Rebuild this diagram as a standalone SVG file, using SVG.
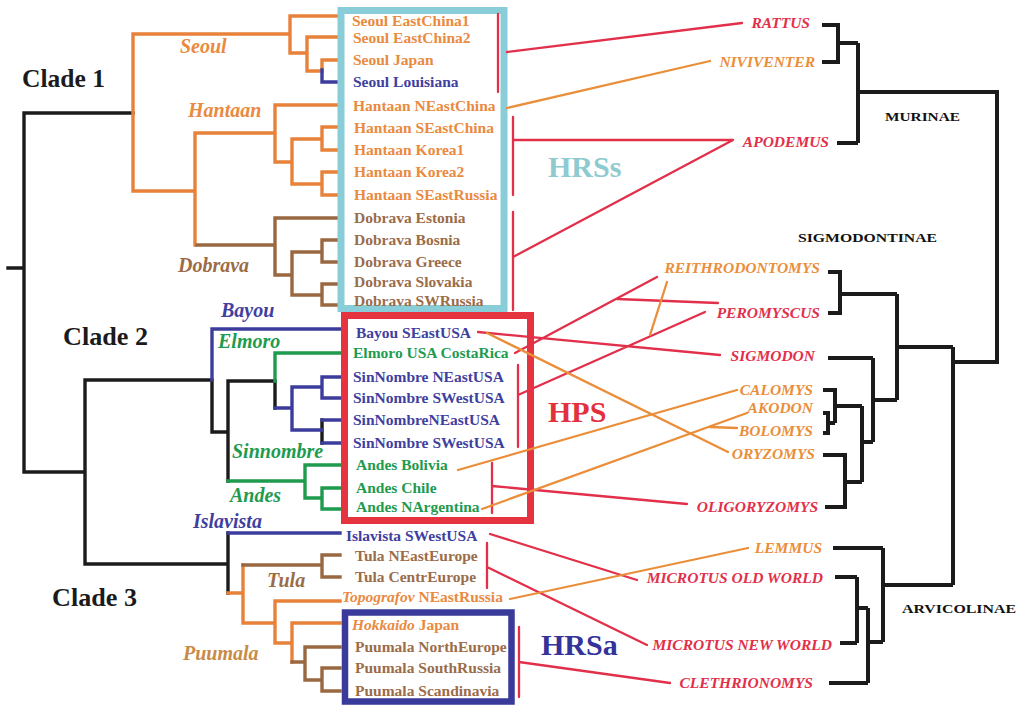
<svg xmlns="http://www.w3.org/2000/svg" width="1020" height="705" viewBox="0 0 1020 705">
<style>
.tr{fill:none;stroke-width:3.4;stroke-linecap:square;stroke-linejoin:miter}
.k{stroke:#1b1b1b}.o{stroke:#E8823A}.br{stroke:#9A6840}.bl{stroke:#3C3C9C}.gr{stroke:#1E9B4E}
.rt{fill:none;stroke:#1b1b1b;stroke-width:4;stroke-linejoin:miter}
.c{fill:none;stroke-width:2.3;stroke-linecap:round}
.cr{stroke:#E2304A}.co{stroke:#EA8E3A}
text{font-family:"Liberation Serif","Times New Roman",serif;font-weight:bold}
.lf{font-size:15.5px}
.cl{font-size:20px;font-style:italic}
.sp{font-size:15.5px;font-style:italic}
.fam{font-size:13px;fill:#111}
.big{font-size:30px}
.clade{font-size:25px;fill:#1b1b1b}
.fo{fill:#E98A40}.fb{fill:#3F3F9F}.fbr{fill:#9B6C48}.fg{fill:#1F9B4F}.fr{fill:#E2304A}.fso{fill:#EA8E3A}
</style>
<g id="left-tree">
<path class="tr k" d="M8 268H24M24 113V472M24 113H133M24 472H85M85 380V564M85 380H212M212 380V432H228M228 381V481M228 381H275M275 381V408M322 420V443M85 564H228M228 533V593"/>
<path class="tr o" d="M133 34V191M133 34H290M290 16V53M290 16H340M290 53H307M307 37V71M307 37H340M307 71H322M322 60V70M322 60H340M133 191H195M195 133V245M195 133H275M275 105V162M275 105H340M275 162H292M292 139V184M292 139H322M322 127V150M322 127H340M322 150H340M292 184H322M322 172V195M322 172H340M322 195H340M228 593H243M243 565V623M243 623H275M275 601V643M275 601H340M275 643H292M292 623V662M292 623H340"/>
<path class="tr bl" d="M322 70V82H340M212 380V329H340M275 408H292M292 387V430M292 387H322M322 377V398M322 377H340M322 398H340M292 430H322M322 420H340M322 443H340M228 533H340"/>
<path class="tr gr" d="M275 381V353H340M228 481H305M305 465V498M305 465H340M305 498H322M322 488V509M322 488H340M322 509H340"/>
<path class="tr br" d="M197 245H275M275 218V275M275 218H340M275 275H292M292 252V295M292 252H322M322 240V262M322 240H340M322 262H340M292 295H322M322 284V305M322 284H340M322 305H340M243 565H322M322 555V577M322 555H340M322 577H340M292 662H305M305 647V680M305 647H340M305 680H322M322 668V691M322 668H340M322 691H340"/>
</g>
<g id="right-tree">
<path class="rt" d="M822 25H838V62H822M838 43H858M858 43V143M837 143H858M858 92H997V362H953M953 347V585M953 347H897M897 294V400M897 294H840M828 272H840V313H828M897 400H873M873 358V442M828 358H873M873 442H862M862 406V482M862 406H835M823 390H835V423M823 413H828V433H823M828 423H835M862 482H845M823 455H845V507H825M953 585H883M883 548V642M833 548H883M883 642H868M868 608V683M868 608H857M857 577V643M835 577H857M840 643H857M829 683H868"/>
</g>
<g id="boxes">
<rect id="box-hrss" x="341" y="10.5" width="163" height="298" fill="none" stroke="#88CDD8" stroke-width="7"/>
<rect id="box-hps" x="344.5" y="315.5" width="186" height="205" fill="none" stroke="#E5333F" stroke-width="7"/>
<rect id="box-hrsa" x="345" y="612.5" width="166.5" height="89" fill="none" stroke="#3A3A9A" stroke-width="6.5"/>
</g>
<g id="clades">
<g id="clade1"><text class="clade" x="22" y="87" textLength="83" lengthAdjust="spacingAndGlyphs">Clade 1</text></g>
<g id="clade2"><text class="clade" x="63" y="345" textLength="85" lengthAdjust="spacingAndGlyphs">Clade 2</text></g>
<g id="clade3"><text class="clade" x="52" y="606" textLength="85" lengthAdjust="spacingAndGlyphs">Clade 3</text></g>
</g>
<g id="group-labels">
<g id="g-seoul"><text class="cl fo" x="180" y="53">Seoul</text></g>
<g id="g-hantaan"><text class="cl fo" x="188" y="117">Hantaan</text></g>
<g id="g-dobrava"><text class="cl fbr" x="178" y="272">Dobrava</text></g>
<g id="g-bayou"><text class="cl fb" x="221" y="317">Bayou</text></g>
<g id="g-elmoro"><text class="cl fg" x="218" y="348">Elmoro</text></g>
<g id="g-sinnombre"><text class="cl fg" x="232" y="458">Sinnombre</text></g>
<g id="g-andes"><text class="cl fg" x="230" y="502">Andes</text></g>
<g id="g-islavista"><text class="cl fb" x="193" y="528">Islavista</text></g>
<g id="g-tula"><text class="cl fbr" x="267" y="587">Tula</text></g>
<g id="g-puumala"><text class="cl" fill="#C98A45" x="183" y="660">Puumala</text></g>
</g>
<g id="leaves">
<g id="l1"><text class="lf fo" x="352" y="26">Seoul EastChina1</text></g>
<g id="l2"><text class="lf fo" x="353" y="43">Seoul EastChina2</text></g>
<g id="l3"><text class="lf fo" x="353" y="65">Seoul Japan</text></g>
<g id="l4"><text class="lf fb" x="353" y="87">Seoul Louisiana</text></g>
<g id="l5"><text class="lf fo" x="353" y="111">Hantaan NEastChina</text></g>
<g id="l6"><text class="lf fo" x="354" y="133">Hantaan SEastChina</text></g>
<g id="l7"><text class="lf fo" x="354" y="155">Hantaan Korea1</text></g>
<g id="l8"><text class="lf fo" x="354" y="177">Hantaan Korea2</text></g>
<g id="l9"><text class="lf fo" x="354" y="200">Hantaan SEastRussia</text></g>
<g id="l10"><text class="lf fbr" x="354" y="223">Dobrava Estonia</text></g>
<g id="l11"><text class="lf fbr" x="354" y="245">Dobrava Bosnia</text></g>
<g id="l12"><text class="lf fbr" x="354" y="267">Dobrava Greece</text></g>
<g id="l13"><text class="lf fbr" x="354" y="287">Dobrava Slovakia</text></g>
<g id="l14"><text class="lf fbr" x="354" y="306">Dobrava SWRussia</text></g>
<g id="l15"><text class="lf fb" x="356" y="338">Bayou SEastUSA</text></g>
<g id="l16"><text class="lf fg" x="353" y="358">Elmoro USA CostaRica</text></g>
<g id="l17"><text class="lf fb" x="353" y="382">SinNombre NEastUSA</text></g>
<g id="l18"><text class="lf fb" x="353" y="403">SinNombre SWestUSA</text></g>
<g id="l19"><text class="lf fb" x="353" y="425">SinNombreNEastUSA</text></g>
<g id="l20"><text class="lf fb" x="353" y="448">SinNombre SWestUSA</text></g>
<g id="l21"><text class="lf fg" x="356" y="470">Andes Bolivia</text></g>
<g id="l22"><text class="lf fg" x="356" y="493">Andes Chile</text></g>
<g id="l23"><text class="lf fg" x="356" y="512">Andes NArgentina</text></g>
<g id="l24"><text class="lf fb" x="346" y="541">Islavista SWestUSA</text></g>
<g id="l25"><text class="lf fbr" x="355" y="561">Tula NEastEurope</text></g>
<g id="l26"><text class="lf fbr" x="355" y="582">Tula CentrEurope</text></g>
<g id="l27"><text class="lf fo" x="342" y="602"><tspan font-style="italic">Topografov</tspan> NEastRussia</text></g>
<g id="l28"><text class="lf fo" x="352" y="630"><tspan font-style="italic">Hokkaido</tspan> Japan</text></g>
<g id="l29"><text class="lf fbr" x="355" y="652">Puumala NorthEurope</text></g>
<g id="l30"><text class="lf fbr" x="355" y="673">Puumala SouthRussia</text></g>
<g id="l31"><text class="lf fbr" x="355" y="696">Puumala Scandinavia</text></g>
</g>
<g id="box-labels">
<g id="lbl-hrss"><text class="big" fill="#8ECBD1" x="548" y="177">HRSs</text></g>
<g id="lbl-hps"><text class="big" fill="#E2303C" x="548" y="422">HPS</text></g>
<g id="lbl-hrsa"><text class="big" fill="#333399" x="541" y="655">HRSa</text></g>
</g>
<g id="hosts">
<g id="h-rattus"><text class="sp fr" text-anchor="end" x="810" y="28">RATTUS</text></g>
<g id="h-niviventer"><text class="sp fso" text-anchor="end" x="815" y="67">NIVIVENTER</text></g>
<g id="h-apodemus"><text class="sp fr" text-anchor="end" x="829" y="147">APODEMUS</text></g>
<g id="h-reith"><text class="sp fso" text-anchor="end" x="820" y="273">REITHRODONTOMYS</text></g>
<g id="h-peromyscus"><text class="sp fr" text-anchor="end" x="820" y="318">PEROMYSCUS</text></g>
<g id="h-sigmodon"><text class="sp fr" text-anchor="end" x="815" y="361">SIGMODON</text></g>
<g id="h-calomys"><text class="sp fso" text-anchor="end" x="813" y="395">CALOMYS</text></g>
<g id="h-akodon"><text class="sp fso" text-anchor="end" x="813" y="413">AKODON</text></g>
<g id="h-bolomys"><text class="sp fso" text-anchor="end" x="813" y="436">BOLOMYS</text></g>
<g id="h-oryzomys"><text class="sp fso" text-anchor="end" x="815" y="459">ORYZOMYS</text></g>
<g id="h-oligoryzomys"><text class="sp fr" text-anchor="end" x="818" y="512">OLIGORYZOMYS</text></g>
<g id="h-lemmus"><text class="sp fso" text-anchor="end" x="822" y="553">LEMMUS</text></g>
<g id="h-mow"><text class="sp fr" text-anchor="end" x="823" y="583">MICROTUS OLD WORLD</text></g>
<g id="h-mnw"><text class="sp fr" text-anchor="end" x="832" y="650">MICROTUS NEW WORLD</text></g>
<g id="h-clethrionomys"><text class="sp fr" text-anchor="end" x="813" y="688">CLETHRIONOMYS</text></g>
</g>
<g id="families">
<g id="f-murinae"><text class="fam" x="885" y="121" textLength="75" lengthAdjust="spacingAndGlyphs">MURINAE</text></g>
<g id="f-sigmodontinae"><text class="fam" x="798" y="242" textLength="139" lengthAdjust="spacingAndGlyphs">SIGMODONTINAE</text></g>
<g id="f-arvicolinae"><text class="fam" x="902" y="613" textLength="114" lengthAdjust="spacingAndGlyphs">ARVICOLINAE</text></g>
</g>
<g id="connectors">
<path class="c cr" d="M498 14V92M507 52L742 23M513 117V195M513 140H733M513 212V310M513 257L733 140M515 353L657 277M617 299L718 303M518 365V447M518 395L705 312M478 332L720 355M492 463V513M492 486L687 504M490 534L637 580M487 543V588M487 567L647 645M519 627V697M519 662L670 683"/>
<path class="c co" d="M507 108L710 61M487 333L728 452M667 282L650 335M458 470L737 390M482 509L747 413M710 427L737 428M510 599L748 548"/>
</g>
</svg>
